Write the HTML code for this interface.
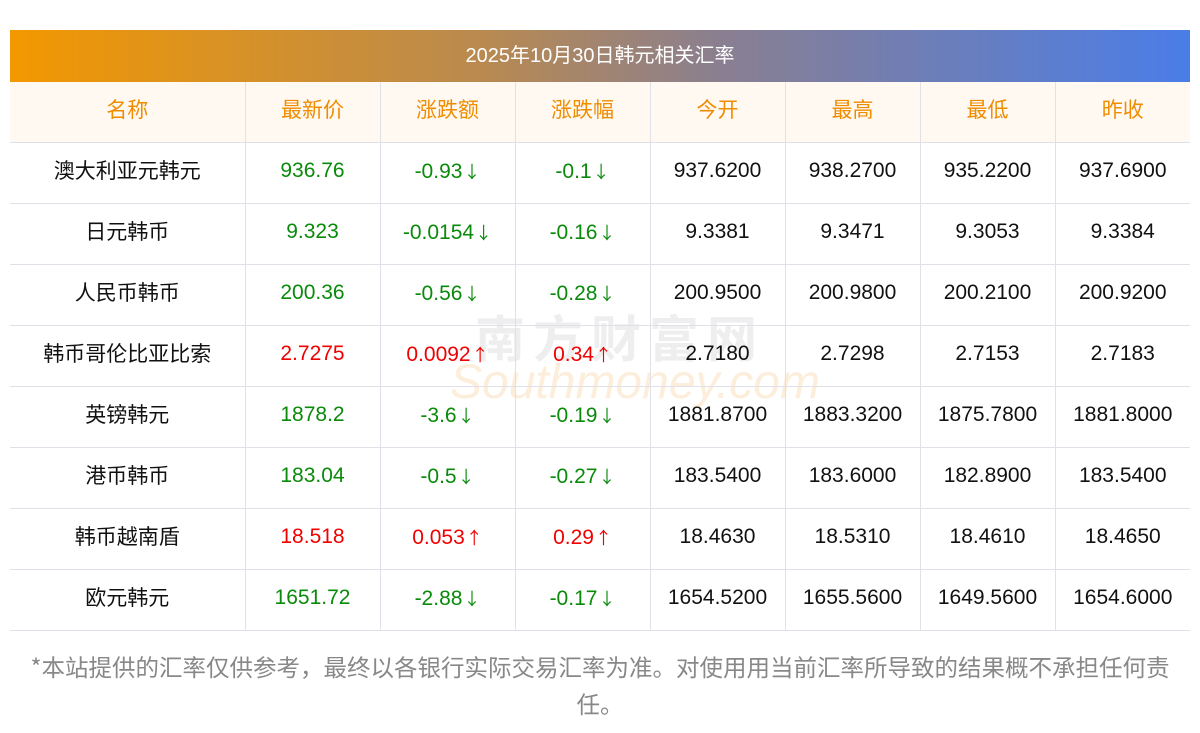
<!DOCTYPE html><html><head><meta charset="utf-8"><style>
body{margin:0;width:1200px;height:733px;background:#fff;font-family:"Liberation Sans","Noto Sans CJK SC",sans-serif;position:relative;overflow:hidden}
.title{position:absolute;left:10px;top:30px;width:1180px;height:52px;background:linear-gradient(90deg,#f39800,#b98a50 40%,#8a7f90 60%,#4a7de8);color:#fff;font-size:20px;line-height:52px;text-align:center}
table{position:absolute;left:10px;top:82px;width:1180px;border-collapse:collapse;table-layout:fixed}
tr{height:61px}
td,th{height:61px;border-bottom:1px solid #e0e0e8;border-left:1px solid #e0e0e8;text-align:center;font-size:21px;font-weight:normal;padding:0 0 3px 0;box-sizing:border-box;color:#111;line-height:24px}
tr:first-child th{height:60px}
tr:first-child{height:60px}
td:first-child,th:first-child{border-left:none}
td:first-child,th{font-family:"Noto Sans CJK SC",sans-serif;font-size:21px;padding-bottom:6px}
th{color:#f08c00;background:#fff9f2}
.g{color:#0a8a0a}.r{color:#f00000}
i{font-style:normal;font-family:"Noto Sans CJK SC",sans-serif;font-size:17px;margin-left:1px}
.note{position:absolute;left:0;width:1200px;top:648px;text-align:center;font-size:23.5px;line-height:37px;color:#888;font-family:"Noto Sans CJK SC",sans-serif;white-space:nowrap}
.wm{position:absolute;left:475px;top:300px;font-size:50px;color:rgba(200,200,200,.3);font-weight:bold;letter-spacing:8px;font-family:"Noto Sans CJK SC",sans-serif}
.wm2{position:absolute;left:450px;top:355px;font-size:48px;color:rgba(245,205,150,.35);font-style:italic}
</style></head><body>
<div class="title">2025年10月30日韩元相关汇率</div>
<div class="wm">南方财富网</div>
<div class="wm2">Southmoney.com</div>
<table>
<colgroup><col style="width:235px"><col style="width:135px"><col style="width:135px"><col style="width:135px"><col style="width:135px"><col style="width:135px"><col style="width:135px"><col style="width:135px"></colgroup>
<tr><th>名称</th><th>最新价</th><th>涨跌额</th><th>涨跌幅</th><th>今开</th><th>最高</th><th>最低</th><th>昨收</th></tr>
<tr><td>澳大利亚元韩元</td><td class="g">936.76</td><td class="g">-0.93<i>↓</i></td><td class="g">-0.1<i>↓</i></td><td>937.6200</td><td>938.2700</td><td>935.2200</td><td>937.6900</td></tr>
<tr><td>日元韩币</td><td class="g">9.323</td><td class="g">-0.0154<i>↓</i></td><td class="g">-0.16<i>↓</i></td><td>9.3381</td><td>9.3471</td><td>9.3053</td><td>9.3384</td></tr>
<tr><td>人民币韩币</td><td class="g">200.36</td><td class="g">-0.56<i>↓</i></td><td class="g">-0.28<i>↓</i></td><td>200.9500</td><td>200.9800</td><td>200.2100</td><td>200.9200</td></tr>
<tr><td>韩币哥伦比亚比索</td><td class="r">2.7275</td><td class="r">0.0092<i>↑</i></td><td class="r">0.34<i>↑</i></td><td>2.7180</td><td>2.7298</td><td>2.7153</td><td>2.7183</td></tr>
<tr><td>英镑韩元</td><td class="g">1878.2</td><td class="g">-3.6<i>↓</i></td><td class="g">-0.19<i>↓</i></td><td>1881.8700</td><td>1883.3200</td><td>1875.7800</td><td>1881.8000</td></tr>
<tr><td>港币韩币</td><td class="g">183.04</td><td class="g">-0.5<i>↓</i></td><td class="g">-0.27<i>↓</i></td><td>183.5400</td><td>183.6000</td><td>182.8900</td><td>183.5400</td></tr>
<tr><td>韩币越南盾</td><td class="r">18.518</td><td class="r">0.053<i>↑</i></td><td class="r">0.29<i>↑</i></td><td>18.4630</td><td>18.5310</td><td>18.4610</td><td>18.4650</td></tr>
<tr><td>欧元韩元</td><td class="g">1651.72</td><td class="g">-2.88<i>↓</i></td><td class="g">-0.17<i>↓</i></td><td>1654.5200</td><td>1655.5600</td><td>1649.5600</td><td>1654.6000</td></tr>
</table>
<div class="note">*本站提供的汇率仅供参考，最终以各银行实际交易汇率为准。对使用用当前汇率所导致的结果概不承担任何责<br>任。</div>
</body></html>
